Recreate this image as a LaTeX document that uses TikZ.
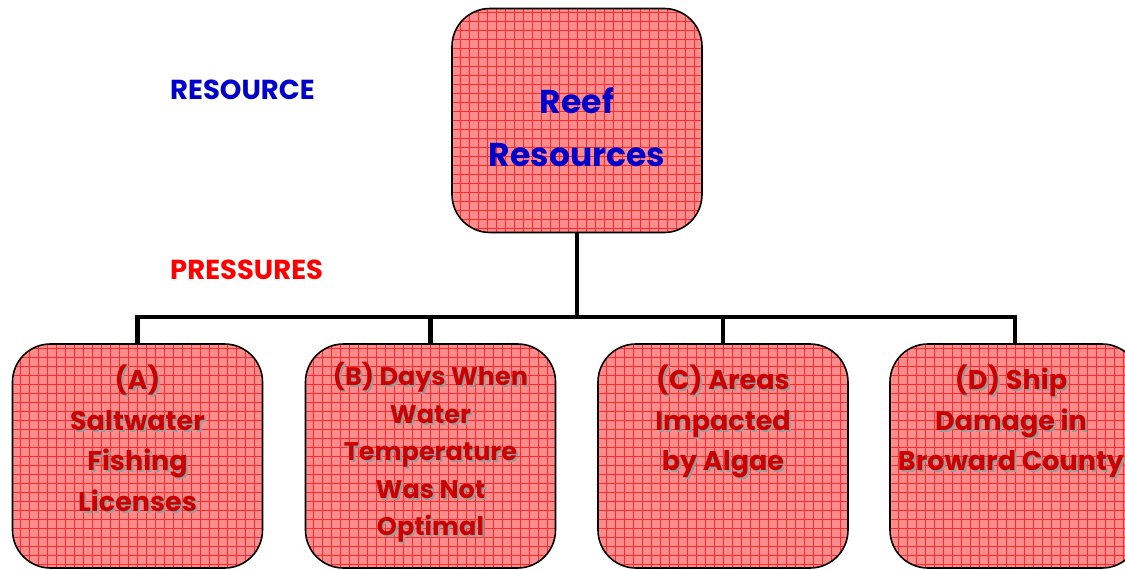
\documentclass[tikz,border=0pt]{standalone}
\usepackage{fontspec}
\setmainfont{Poppins}
\definecolor{gridpink}{HTML}{FF8C8C}
\definecolor{gridred}{HTML}{FF2A2A}
\definecolor{txtred}{HTML}{CC0000}
\definecolor{txtblue}{HTML}{0000CC}
\definecolor{shadowgray}{HTML}{9A9A9A}
\tikzset{
  gridbox/.style={draw=black, line width=1.6pt, rounded corners=38pt,
    minimum width=250pt, minimum height=224pt, inner sep=0pt,
    path picture={
      \fill[gridpink] (path picture bounding box.south west) rectangle (path picture bounding box.north east);
      \draw[gridred, line width=0.6pt, step=9pt] (path picture bounding box.south west) grid (path picture bounding box.north east);
    }},
  conn/.style={draw=black, line width=4.5pt},
  boxtxt/.style={anchor=north, align=center, inner sep=0pt, text=txtred,
    font=\fontsize{27}{40.5}\selectfont\bfseries},
  boxshadow/.style={boxtxt, text=shadowgray},
  btxt/.style={font=\fontsize{25.5}{37.5}\selectfont\bfseries},
  toptxt/.style={align=center, inner sep=0pt, text=txtblue,
    font=\fontsize{33}{53}\selectfont\bfseries},
  lbl/.style={anchor=west, inner sep=0pt, font=\fontsize{27.5}{30}\selectfont\bfseries}
}
\begin{document}
\begin{tikzpicture}[x=1pt,y=-1pt]
\useasboundingbox (0,0) rectangle (1125,570);
\clip (0,0) rectangle (1125,570);
% boxes
\node[gridbox] (top) at (577,120.5) {};
\node[gridbox] (A) at (137.5,456) {};
\node[gridbox] (B) at (430.5,456) {};
\node[gridbox] (C) at (723,456) {};
\node[gridbox] (D) at (1015,456) {};
% connectors
\coordinate (j) at (577,317);
\draw[conn] (top.south) -- (j);
\draw[conn] (A.north) -- (A.north |- j) -- (D.north |- j) -- (D.north);
\draw[conn] (B.north) -- (B.north |- j);
\draw[conn] (C.north) -- (C.north |- j);
% top text
\node[toptxt] (toptext) at (577,127) {Reef\\Resources};
% side labels
\node[lbl, text=txtblue] (res) at (170,90) {RESOURCE};
\node[lbl, text=red] (pres) at (170,270) {PRESSURES};
% bottom texts with shadow
\node[boxshadow] (As) at (139.5,367) {(A)\\Saltwater\\Fishing\\Licenses};
\node[boxtxt] (At) at (137.5,365) {(A)\\Saltwater\\Fishing\\Licenses};
\node[boxshadow, btxt] (Bs) at (432.5,364.5) {(B) Days When\\Water\\Temperature\\Was Not\\Optimal};
\node[boxtxt, btxt] (Bt) at (430.5,362.5) {(B) Days When\\Water\\Temperature\\Was Not\\Optimal};
\node[boxshadow] (Cs) at (725,367) {(C) Areas\\Impacted\\by Algae};
\node[boxtxt] (Ct) at (723,365) {(C) Areas\\Impacted\\by Algae};
\node[boxshadow] (Ds) at (1013,367) {(D) Ship\\Damage in\\Broward County};
\node[boxtxt] (Dt) at (1011,365) {(D) Ship\\Damage in\\Broward County};
\end{tikzpicture}
\end{document}
